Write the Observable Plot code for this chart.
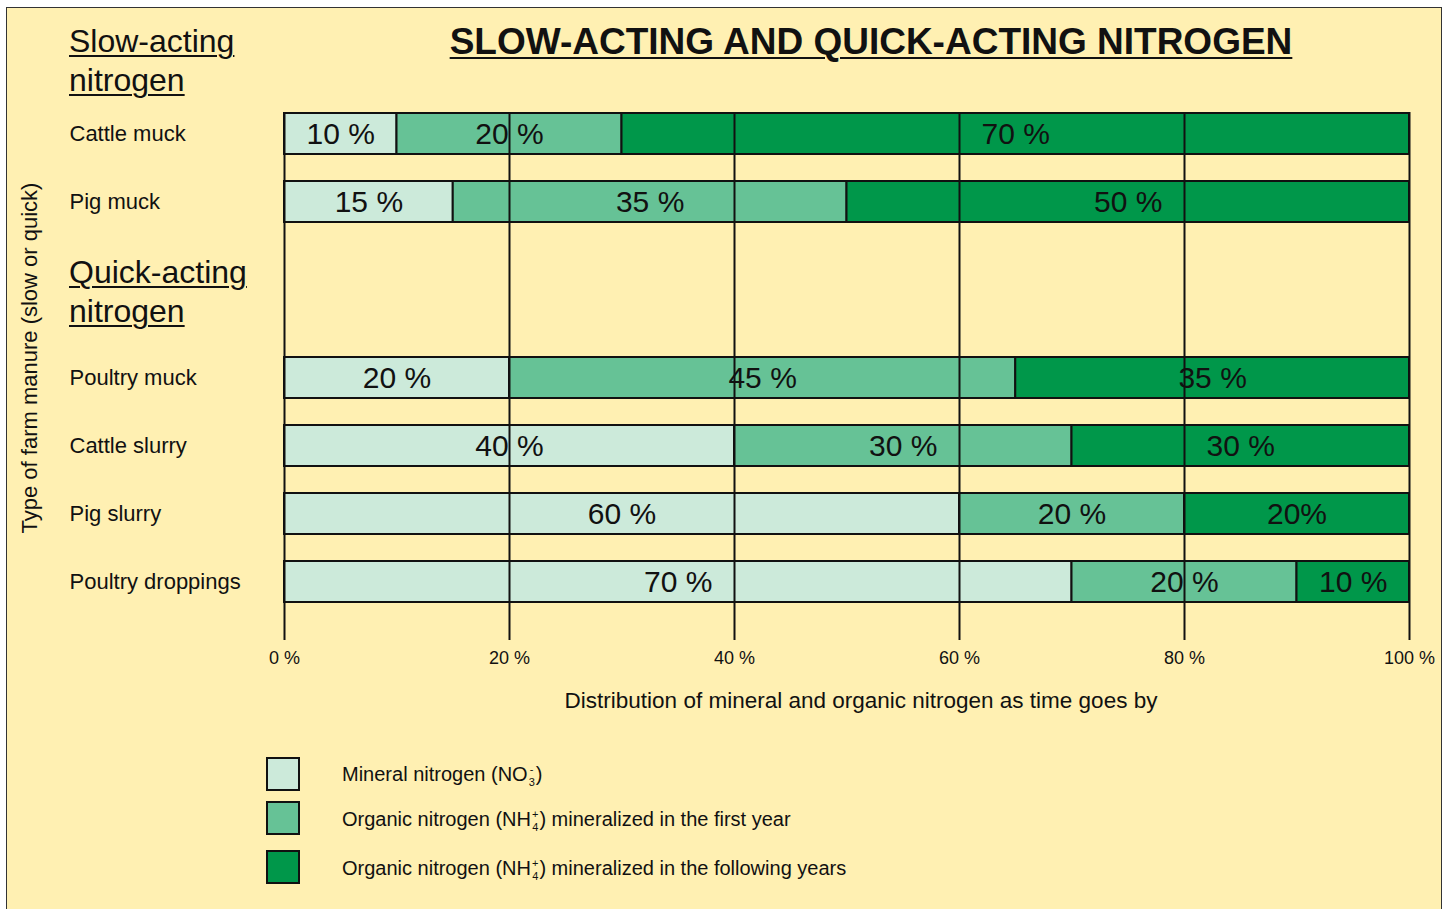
<!DOCTYPE html>
<html>
<head>
<meta charset="utf-8">
<script src="https://cdn.jsdelivr.net/npm/d3@7"></script>
<script src="https://cdn.jsdelivr.net/npm/@observablehq/plot@0.6"></script>
<style>
html, body { margin: 0; padding: 0; background: #fff; width: 1453px; height: 909px; overflow: hidden;
  font-family: 'Liberation Sans', Arial, Helvetica, sans-serif; color: #111; }
#box { position: absolute; left: 6px; top: 7px; width: 1436px; height: 950px; background: #FFF0B2;
  border: 1.5px solid #333; box-sizing: border-box; }
.abs { position: absolute; white-space: nowrap; }
.head { font-size: 32px; line-height: 39px; text-decoration: underline; text-decoration-thickness: 1.5px; text-underline-offset: 3px; }
#title { left: 171px; width: 1400px; top: 23px; text-align: center; font-size: 37px; line-height: 37px; font-weight: bold;
  text-decoration: underline; text-decoration-thickness: 2px; text-underline-offset: 3px; }
#ytitle { left: -170px; top: 345px; width: 400px; height: 26px; line-height: 26px; text-align: center; font-size: 22px; transform: rotate(-90deg); }
.sw { position: absolute; left: 266px; width: 34px; height: 34px; border: 2px solid #111; box-sizing: border-box; }
.lt { position: absolute; left: 342px; font-size: 20px; line-height: 24px; white-space: nowrap; }
.ion { display: inline-flex; flex-direction: column; font-size: 11px; line-height: 13px; vertical-align: 8px; margin: 0 1px; text-align: center; }
</style>
</head>
<body>
<div id="box"></div>
<div id="title" class="abs">SLOW-ACTING AND QUICK-ACTING NITROGEN</div>
<div class="abs head" style="left:69px;top:22px;">Slow-acting<br>nitrogen</div>
<div class="abs head" style="left:69px;top:253px;">Quick-acting<br>nitrogen</div>
<div id="ytitle" class="abs">Type of farm manure (slow or quick)</div>
<div id="legend"></div>
<script>
// ---- data ----
const slowManures = ["Cattle muck", "Pig muck"];
const quickManures = ["Poultry muck", "Cattle slurry", "Pig slurry", "Poultry droppings"];
const nitrogenTypes = [
  "Mineral nitrogen (NO3-)",
  "Organic nitrogen (NH4+) mineralized in the first year",
  "Organic nitrogen (NH4+) mineralized in the following years"
];
const mineral        = [10, 15, 20, 40, 60, 70];
const firstYear      = [20, 35, 45, 30, 20, 20];
const followingYears = [70, 50, 35, 30, 20, 10];
const segmentLabels = [
  ["10 %", "20 %", "70 %"],
  ["15 %", "35 %", "50 %"],
  ["20 %", "45 %", "35 %"],
  ["40 %", "30 %", "30 %"],
  ["60 %", "20 %", "20%"],
  ["70 %", "20 %", "10 %"]
];
const xTicks = [0, 20, 40, 60, 80, 100];
const colors = ["#CCEADA", "#66C296", "#00974A"];
const xTitle = "Distribution of mineral and organic nitrogen as time goes by";
const legendHtml = [
  'Mineral nitrogen (NO<span class="ion"><span>-</span><span>3</span></span>)',
  'Organic nitrogen (NH<span class="ion"><span>+</span><span>4</span></span>) mineralized in the first year',
  'Organic nitrogen (NH<span class="ion"><span>+</span><span>4</span></span>) mineralized in the following years'
];

const allManures = slowManures.concat(quickManures);
const series = [mineral, firstYear, followingYears];
const rows = allManures.flatMap((m, i) => nitrogenTypes.map((t, j) => ({
  manure: m, type: t, value: series[j][i], label: segmentLabels[i][j]
})));

const font = "'Liberation Sans', Arial, Helvetica, sans-serif";
const ink = "#111";

function place(svg, top) {
  svg.style.position = "absolute";
  svg.style.left = "0px";
  svg.style.top = top + "px";
  svg.style.background = "transparent";
  svg.style.overflow = "visible";
  svg.style.maxWidth = "none";
  svg.style.fontFamily = font;
  document.body.appendChild(svg);
}

function barMarks(data) {
  return [
    Plot.barX(data, Plot.stackX({x: "value", y: "manure", fill: "type", stroke: ink, strokeWidth: 2})),
    Plot.text(data, Plot.stackX({x: "value", y: "manure", text: "label", fontSize: 30, fill: ink, fontFamily: font}))
  ];
}

// top group (slow-acting)
const topPlot = Plot.plot({
  width: 1453, height: 289,
  marginLeft: 284, marginRight: 44, marginTop: 112, marginBottom: 66,
  x: {domain: [0, 100], axis: null},
  y: {domain: slowManures, paddingInner: 0.39, paddingOuter: 0},
  color: {domain: nitrogenTypes, range: colors},
  marks: [
    ...barMarks(rows.filter(d => slowManures.includes(d.manure))),
    Plot.ruleX(xTicks, {stroke: ink, strokeWidth: 2, insetBottom: -66}),
    Plot.axisY({tickSize: 0, tickPadding: 215, textAnchor: "start", fontSize: 22, color: ink, label: null, fontFamily: font})
  ]
});
place(topPlot, 0);

// bottom group (quick-acting)
const bottomPlot = Plot.plot({
  width: 1453, height: 440,
  marginLeft: 284, marginRight: 44, marginTop: 66, marginBottom: 125,
  x: {domain: [0, 100]},
  y: {domain: quickManures, paddingInner: 0.39, paddingOuter: 0},
  color: {domain: nitrogenTypes, range: colors},
  marks: [
    ...barMarks(rows.filter(d => quickManures.includes(d.manure))),
    Plot.ruleX(xTicks, {stroke: ink, strokeWidth: 2, insetTop: -66}),
    Plot.axisY({tickSize: 0, tickPadding: 215, textAnchor: "start", fontSize: 22, color: ink, label: null, fontFamily: font}),
    Plot.axisX(xTicks, {tickSize: 36, tickPadding: 11, strokeWidth: 2, tickFormat: d => d + " %", fontSize: 18, color: ink, label: null, fontFamily: font}),
    Plot.text([xTitle], {text: d => d, frameAnchor: "bottom", dy: 103, dx: 14, fontSize: 22.5, fill: ink, fontFamily: font})
  ]
});
place(bottomPlot, 289);

// legend
const legend = document.getElementById("legend");
const swTops = [757, 801, 850];
const ltCenters = [774, 819, 868];
nitrogenTypes.forEach((t, i) => {
  const sw = document.createElement("div");
  sw.className = "sw";
  sw.style.top = swTops[i] + "px";
  sw.style.background = colors[i];
  legend.appendChild(sw);
  const lt = document.createElement("div");
  lt.className = "lt";
  lt.style.top = (ltCenters[i] - 12) + "px";
  lt.innerHTML = legendHtml[i];
  legend.appendChild(lt);
});
</script>
</body>
</html>
